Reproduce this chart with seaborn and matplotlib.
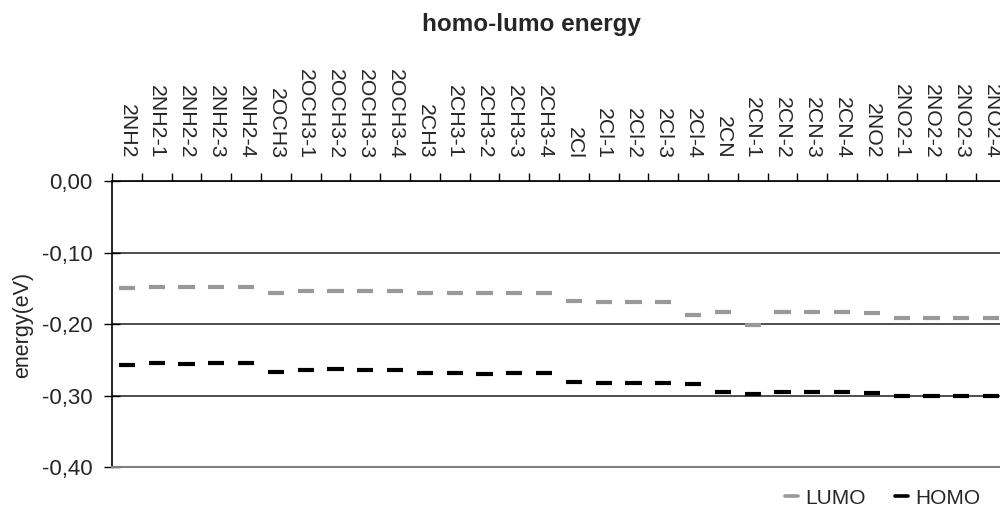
import numpy as np
import pandas as pd
import matplotlib
matplotlib.use("Agg")
import matplotlib.pyplot as plt
from matplotlib.lines import Line2D
from matplotlib.ticker import FuncFormatter, FixedLocator
import seaborn as sns

categories = ["2NH2", "2NH2-1", "2NH2-2", "2NH2-3", "2NH2-4",
              "2OCH3", "2OCH3-1", "2OCH3-2", "2OCH3-3", "2OCH3-4",
              "2CH3", "2CH3-1", "2CH3-2", "2CH3-3", "2CH3-4",
              "2Cl", "2Cl-1", "2Cl-2", "2Cl-3", "2Cl-4",
              "2CN", "2CN-1", "2CN-2", "2CN-3", "2CN-4",
              "2NO2", "2NO2-1", "2NO2-2", "2NO2-3", "2NO2-4"]
lumo = [-0.150, -0.148, -0.148, -0.148, -0.148,
        -0.156, -0.154, -0.153, -0.153, -0.153,
        -0.156, -0.156, -0.156, -0.156, -0.156,
        -0.168, -0.169, -0.169, -0.169, -0.1876,
        -0.183, -0.2015, -0.183, -0.183, -0.183,
        -0.185, -0.191, -0.191, -0.191, -0.191]
homo = [-0.257, -0.2547, -0.2557, -0.2547, -0.2547,
        -0.2664, -0.2645, -0.262, -0.2645, -0.2645,
        -0.2687, -0.2687, -0.2697, -0.2687, -0.2687,
        -0.2804, -0.2827, -0.2827, -0.2827, -0.284,
        -0.2944, -0.2976, -0.2944, -0.2944, -0.2944,
        -0.2962, -0.300, -0.300, -0.300, -0.300]
series_names = ["LUMO", "HOMO"]
colors = {"LUMO": "#999999", "HOMO": "#000000"}
y_ticks = [0.0, -0.1, -0.2, -0.3, -0.4]

sns.set_theme(style="white")
plt.rcParams['font.family'] = ['Liberation Sans', 'DejaVu Sans']

df = pd.DataFrame({
    "category": categories * 2,
    "energy": lumo + homo,
    "series": ["LUMO"] * len(categories) + ["HOMO"] * len(categories),
})

fig = plt.figure(figsize=(10, 5.09), dpi=100)
ax = fig.add_axes([0.112, 0.0821, 0.894, 0.5619])

sns.scatterplot(data=df, x="category", y="energy", hue="series",
                palette=colors, marker="_", s=135, linewidth=3.0,
                ax=ax, legend=False, zorder=3)

ax.set_xlim(-0.5, len(categories) - 0.5)
ax.set_ylim(-0.4, 0.0)

# x axis on top
ax.xaxis.tick_top()
ax.set_xticks(range(len(categories)))
ax.set_xticklabels(categories, rotation=-90, fontsize=15.3)
ax.xaxis.set_minor_locator(FixedLocator(np.arange(-0.5, len(categories), 1)))
ax.tick_params(axis='x', which='major', length=0, pad=16, top=True, bottom=False)
ax.tick_params(axis='x', which='minor', length=6, width=1, color='black',
               direction='out', top=True, bottom=False)
ax.set_xlabel("")

ax.set_yticks(y_ticks)
ax.yaxis.set_major_formatter(FuncFormatter(
    lambda v, p: "0,00" if abs(v) < 1e-9 else f"{v:.2f}".replace('.', ',')))
ax.tick_params(axis='y', which='major', length=12, width=1, color='black',
               direction='inout', left=True, labelsize=16, pad=8)
ax.set_ylabel("")

ax.yaxis.grid(True, color='#404040', linewidth=1.3)
ax.set_axisbelow(True)
for side in ['left', 'top']:
    ax.spines[side].set_color('black')
    ax.spines[side].set_linewidth(1.2)
ax.spines['bottom'].set_color('#808080')
ax.spines['bottom'].set_linewidth(1.5)
ax.spines['right'].set_visible(False)

fig.text(0.023, 1 - 325 / 509, "energy(eV)", rotation=90, ha='center',
         va='center', fontsize=15.5)
fig.text(0.531, 1 - 25 / 509, "homo-lumo energy", ha='center', va='center',
         fontsize=17.5, fontweight='bold')

handles = [Line2D([], [], color=colors[n], lw=2.6) for n in series_names]
ax.legend(handles, series_names, loc='center right',
          bbox_to_anchor=(0.995, 1 - 498 / 509), bbox_transform=fig.transFigure,
          ncol=2, frameon=False, handlelength=0.63, handletextpad=0.34,
          columnspacing=1.4, fontsize=15, borderpad=0.2)

fig.savefig("out.png", dpi=100)
